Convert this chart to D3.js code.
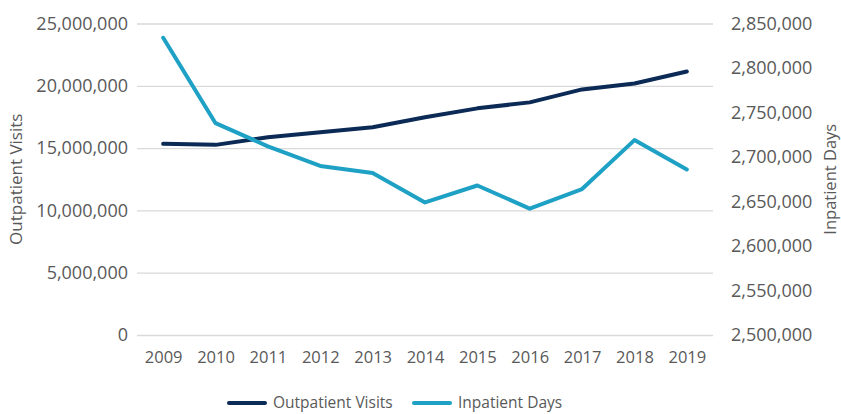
<!DOCTYPE html>
<html>
<head>
<meta charset="utf-8">
<script src="https://cdn.jsdelivr.net/npm/d3@7"></script>
<style>
  body { margin: 0; background: #fff; }
  svg text { font-family: "Open Sans", sans-serif; fill: #595959; }
</style>
</head>
<body>
<script>
// chart data
var years = ["2009","2010","2011","2012","2013","2014","2015","2016","2017","2018","2019"];
var outpatientVisits = [15340000, 15260000, 15870000, 16270000, 16670000, 17470000, 18190000, 18670000, 19710000, 20190000, 21150000];
var inpatientDays = [2834000, 2738000, 2712000, 2690000, 2682000, 2649000, 2668000, 2642000, 2664000, 2719000, 2686000];
var leftTicks = [0, 5000000, 10000000, 15000000, 20000000, 25000000];
var rightTicks = [2500000, 2550000, 2600000, 2650000, 2700000, 2750000, 2800000, 2850000];
var seriesNames = ["Outpatient Visits", "Inpatient Days"];

var svgW = 841, svgH = 414;
var plotL = 137, plotR = 713, plotT = 23.5, plotB = 335;
var colOut = "#0b2a55", colIn = "#1ea1c4";

var svg = d3.select("body").append("svg")
    .attr("width", svgW)
    .attr("height", svgH);

var xScale = d3.scalePoint()
    .domain(years)
    .range([plotL, plotR])
    .padding(0.5);

var yLeft = d3.scaleLinear()
    .domain([0, 25000000])
    .range([plotB, plotT]);

var yRight = d3.scaleLinear()
    .domain([2500000, 2850000])
    .range([plotB, plotT]);

var fmt = d3.format(",");

// gridlines + left axis
var leftAxis = d3.axisLeft(yLeft)
    .tickValues(leftTicks)
    .tickSize(-(plotR - plotL))
    .tickPadding(9)
    .tickFormat(fmt);

svg.append("g")
    .attr("transform", "translate(" + plotL + ",0)")
    .call(leftAxis)
    .call(function(g) {
        g.select(".domain").remove();
        g.selectAll("line").attr("stroke", "#d9d9d9").attr("stroke-width", 1.3);
        g.selectAll("text").attr("font-size", 18).attr("font-family", "Open Sans").attr("fill", "#595959");
    });

// right axis
var rightAxis = d3.axisRight(yRight)
    .tickValues(rightTicks)
    .tickSize(0)
    .tickPadding(18)
    .tickFormat(fmt);

svg.append("g")
    .attr("transform", "translate(" + plotR + ",0)")
    .call(rightAxis)
    .call(function(g) {
        g.select(".domain").remove();
        g.selectAll("text").attr("font-size", 18).attr("font-family", "Open Sans").attr("fill", "#595959");
    });

// x axis
var xAxis = d3.axisBottom(xScale)
    .tickSize(0)
    .tickPadding(16);

svg.append("g")
    .attr("transform", "translate(0," + plotB + ")")
    .call(xAxis)
    .call(function(g) {
        g.select(".domain").remove();
        g.selectAll("text").attr("font-size", 16.5).attr("font-family", "Open Sans").attr("fill", "#595959");
    });

// axis titles
svg.append("text")
    .attr("transform", "translate(22," + ((plotT + plotB) / 2) + ") rotate(-90)")
    .attr("text-anchor", "middle")
    .attr("font-size", 17)
    .text("Outpatient Visits");

svg.append("text")
    .attr("transform", "translate(836," + ((plotT + plotB) / 2) + ") rotate(-90)")
    .attr("text-anchor", "middle")
    .attr("font-size", 16.5)
    .text("Inpatient Days");

// lines
var lineOut = d3.line()
    .x(function(d, i) { return xScale(years[i]); })
    .y(function(d) { return yLeft(d); });

var lineIn = d3.line()
    .x(function(d, i) { return xScale(years[i]); })
    .y(function(d) { return yRight(d); });

svg.append("path")
    .datum(outpatientVisits)
    .attr("d", lineOut)
    .attr("fill", "none")
    .attr("stroke", colOut)
    .attr("stroke-width", 4)
    .attr("stroke-linejoin", "round")
    .attr("stroke-linecap", "round");

svg.append("path")
    .datum(inpatientDays)
    .attr("d", lineIn)
    .attr("fill", "none")
    .attr("stroke", colIn)
    .attr("stroke-width", 4)
    .attr("stroke-linejoin", "round")
    .attr("stroke-linecap", "round");

// legend
var legendX = [229, 414];
var legendCols = [colOut, colIn];
var legend = svg.selectAll(".legend")
    .data(seriesNames)
    .enter()
    .append("g")
    .attr("class", "legend")
    .attr("transform", function(d, i) { return "translate(" + legendX[i] + ",403)"; });

legend.append("line")
    .attr("x1", 0).attr("x2", 36)
    .attr("y1", 0).attr("y2", 0)
    .attr("stroke", function(d, i) { return legendCols[i]; })
    .attr("stroke-width", 4)
    .attr("stroke-linecap", "round");

legend.append("text")
    .attr("x", 44)
    .attr("y", 0)
    .attr("dy", "0.35em")
    .attr("font-size", 15.5)
    .text(function(d) { return d; });
</script>
</body>
</html>
